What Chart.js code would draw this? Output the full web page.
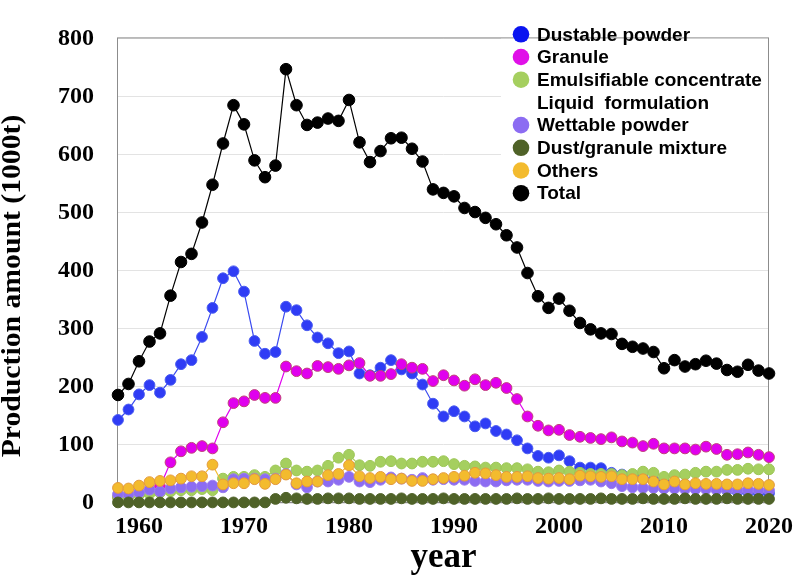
<!DOCTYPE html>
<html>
<head>
<meta charset="utf-8">
<script src="https://cdn.jsdelivr.net/npm/chart.js@4.4.0/dist/chart.umd.min.js"></script>
<style>
  body { margin: 0; background: #fff; }
  #wrap { width: 802px; height: 579px; }
</style>
</head>
<body>
<div id="wrap"><canvas id="myChart"></canvas></div>
<script>
// years 1958 .. 2020
var years = [];
for (var yr = 1958; yr <= 2020; yr++) years.push(yr);

var xTicks = [1960, 1970, 1980, 1990, 2000, 2010, 2020];

var dustable = [143,161,187,203,190,212,239,246,286,336,
  387,399,364,279,257,260,338,332,306,285,
  275,258,261,223,220,233,246,230,223,204,
  171,149,158,149,132,137,124,118,108,94,
  81,78,82,72,61,61,60,52,49,45,
  42,39,36,34,32,30,28,25,22,20,
  19,18,17];

var granule = [10,12,15,20,28,70,89,95,98,94,
  139,172,175,186,181,181,235,227,223,236,
  234,231,237,241,219,219,222,239,233,231,
  210,220,211,202,213,203,207,198,179,149,
  133,125,126,117,114,112,110,113,106,104,
  98,102,94,94,94,92,97,93,83,84,
  87,83,79];

var emulsifiable = [10,12,14,16,18,20,22,22,24,22,
  42,45,45,48,45,56,68,56,54,56,
  64,78,83,65,64,71,72,68,68,71,
  71,72,67,64,63,61,61,60,60,58,
  54,53,56,54,52,50,50,50,48,50,
  54,52,45,48,49,52,54,54,57,57,
  59,58,58];

var wettable = [15,15,18,23,20,25,27,28,29,30,
  27,41,42,42,41,42,50,32,27,37,
  37,40,45,37,36,40,44,42,40,43,
  40,41,40,40,38,37,37,39,40,40,
  38,37,38,38,39,40,37,34,29,27,
  26,26,25,25,24,24,24,23,23,22,
  22,22,22];

var mixture = [1,1,1,1,1,1,1,1,1,1,
  1,1,1,1,1,7,9,8,7,7,
  8,8,8,7,7,7,7,8,7,7,
  7,8,7,7,7,7,7,7,8,7,
  7,8,7,7,7,7,8,7,7,7,
  8,7,7,7,8,7,7,7,8,7,
  7,7,7];

var others = [26,25,30,36,38,39,42,46,46,66,
  32,34,34,41,33,41,49,34,37,37,
  48,50,65,46,43,45,41,42,38,38,
  41,43,45,47,52,51,48,45,45,46,
  43,42,43,41,47,46,45,46,41,41,
  41,37,32,37,32,34,33,33,32,32,
  34,33,31];

var total = [186,205,244,278,292,357,415,429,483,548,
  619,685,652,590,561,581,747,685,651,655,
  662,658,694,621,587,606,628,629,610,588,
  540,534,528,508,501,491,480,461,440,396,
  356,336,352,331,310,299,292,291,274,269,
  266,260,232,246,235,239,245,240,229,226,
  238,228,223];

var legendLabels = ['Dustable powder', 'Granule', 'Emulsifiable concentrate', 'Liquid  formulation',
  'Wettable powder', 'Dust/granule mixture', 'Others', 'Total'];
var legendColors = ['#0a14f0', '#e010e8', '#a5cf5f', null, '#8c6cf2', '#4f6228', '#f3bb2e', '#000000'];

function pts(arr) {
  return years.map(function(y, i){ return {x: y, y: arr[i]}; });
}

function series(label, arr, fill, border, line, order, r) {
  return {
    label: label,
    data: pts(arr),
    borderColor: line,
    borderWidth: 1.2,
    backgroundColor: fill,
    pointBackgroundColor: fill,
    pointBorderColor: border,
    pointBorderWidth: 1,
    pointRadius: r,
    pointHoverRadius: r,
    tension: 0,
    clip: false,
    order: order
  };
}

var boxLegend = {
  id: 'boxLegend',
  beforeDatasetsDraw: function(chart) {
    var ctx = chart.ctx, a = chart.chartArea;
    ctx.save();
    ctx.fillStyle = '#ffffff';
    ctx.fillRect(501, 13, 274, 194);
    ctx.strokeStyle = '#8c8c8c';
    ctx.lineWidth = 1;
    ctx.strokeRect(a.left - 0.5, a.top - 0.5, a.right - a.left, a.bottom - a.top);
    ctx.restore();
  },
  afterDatasetsDraw: function(chart) {
    var ctx = chart.ctx;
    ctx.save();
    // legend
    ctx.font = 'bold 19px "Liberation Sans", Arial, sans-serif';
    ctx.textBaseline = 'middle';
    ctx.textAlign = 'left';
    for (var i = 0; i < legendLabels.length; i++) {
      var cy = 34.3 + i * 22.7;
      if (legendColors[i]) {
        ctx.beginPath();
        ctx.arc(521, cy, 8.3, 0, Math.PI * 2);
        ctx.fillStyle = legendColors[i];
        ctx.fill();
      }
      ctx.fillStyle = '#000';
      ctx.fillText(legendLabels[i], 537, cy + 1);
    }
    // y axis title
    ctx.translate(19.5, 286);
    ctx.rotate(-Math.PI / 2);
    ctx.scale(1.1, 1);
    ctx.font = 'bold 27px "Liberation Serif", "Times New Roman", serif';
    ctx.textAlign = 'center';
    ctx.textBaseline = 'alphabetic';
    ctx.fillText('Production amount (1000t)', 0, 0);
    ctx.restore();
  }
};

var ctx = document.getElementById('myChart');
var myChart = new Chart(ctx, {
  type: 'line',
  data: {
    datasets: [
      series('Dustable powder', dustable, '#2f3cf5', '#4a5cf0', '#3a4af0', 7, 5.4),
      series('Granule', granule, '#e000ee', '#c0407a', '#e000ee', 6, 5.4),
      series('Emulsifiable concentrate', emulsifiable, '#a5cf5f', '#9cc656', '#a5cf5f', 5, 5.4),
      series('Wettable powder', wettable, '#8c6cf2', '#9b7cf0', '#8c6cf2', 4, 5.4),
      series('Dust/granule mixture', mixture, '#4f6228', '#4f6228', '#4f6228', 3, 5.4),
      series('Others', others, '#f3bb2e', '#e49a3c', '#f3bb2e', 2, 5.4),
      series('Total', total, '#000000', '#000000', '#000000', 1, 5.8)
    ]
  },
  options: {
    responsive: true,
    maintainAspectRatio: false,
    animation: false,
    layout: { padding: { top: 12, right: 25, left: 0, bottom: 0 } },
    plugins: {
      legend: { display: false },
      tooltip: { enabled: false }
    },
    scales: {
      x: {
        type: 'linear',
        min: 1958,
        max: 2020,
        afterFit: function(s) { s.height = 76; },
        afterBuildTicks: function(s) { s.ticks = xTicks.map(function(v){ return {value: v}; }); },
        grid: { display: false, drawTicks: false },
        border: { display: false },
        ticks: {
          padding: 9,
          color: '#000',
          maxRotation: 0,
          font: { family: '"Liberation Serif", "Times New Roman", serif', size: 24, weight: 'bold' },
          callback: function(v) { return String(v); }
        },
        title: {
          display: true,
          text: 'year',
          color: '#000',
          padding: { top: 0, bottom: 0 },
          font: { family: '"Liberation Serif", "Times New Roman", serif', size: 35, weight: 'bold' }
        }
      },
      y: {
        min: 0,
        max: 800,
        afterFit: function(s) { s.width = 118; },
        grid: { color: '#e3e3e3', drawTicks: false },
        border: { display: false },
        ticks: {
          stepSize: 100,
          padding: 24,
          color: '#000',
          font: { family: '"Liberation Serif", "Times New Roman", serif', size: 24, weight: 'bold' }
        },
        title: { display: false }
      }
    }
  },
  plugins: [boxLegend]
});
</script>
</body>
</html>
